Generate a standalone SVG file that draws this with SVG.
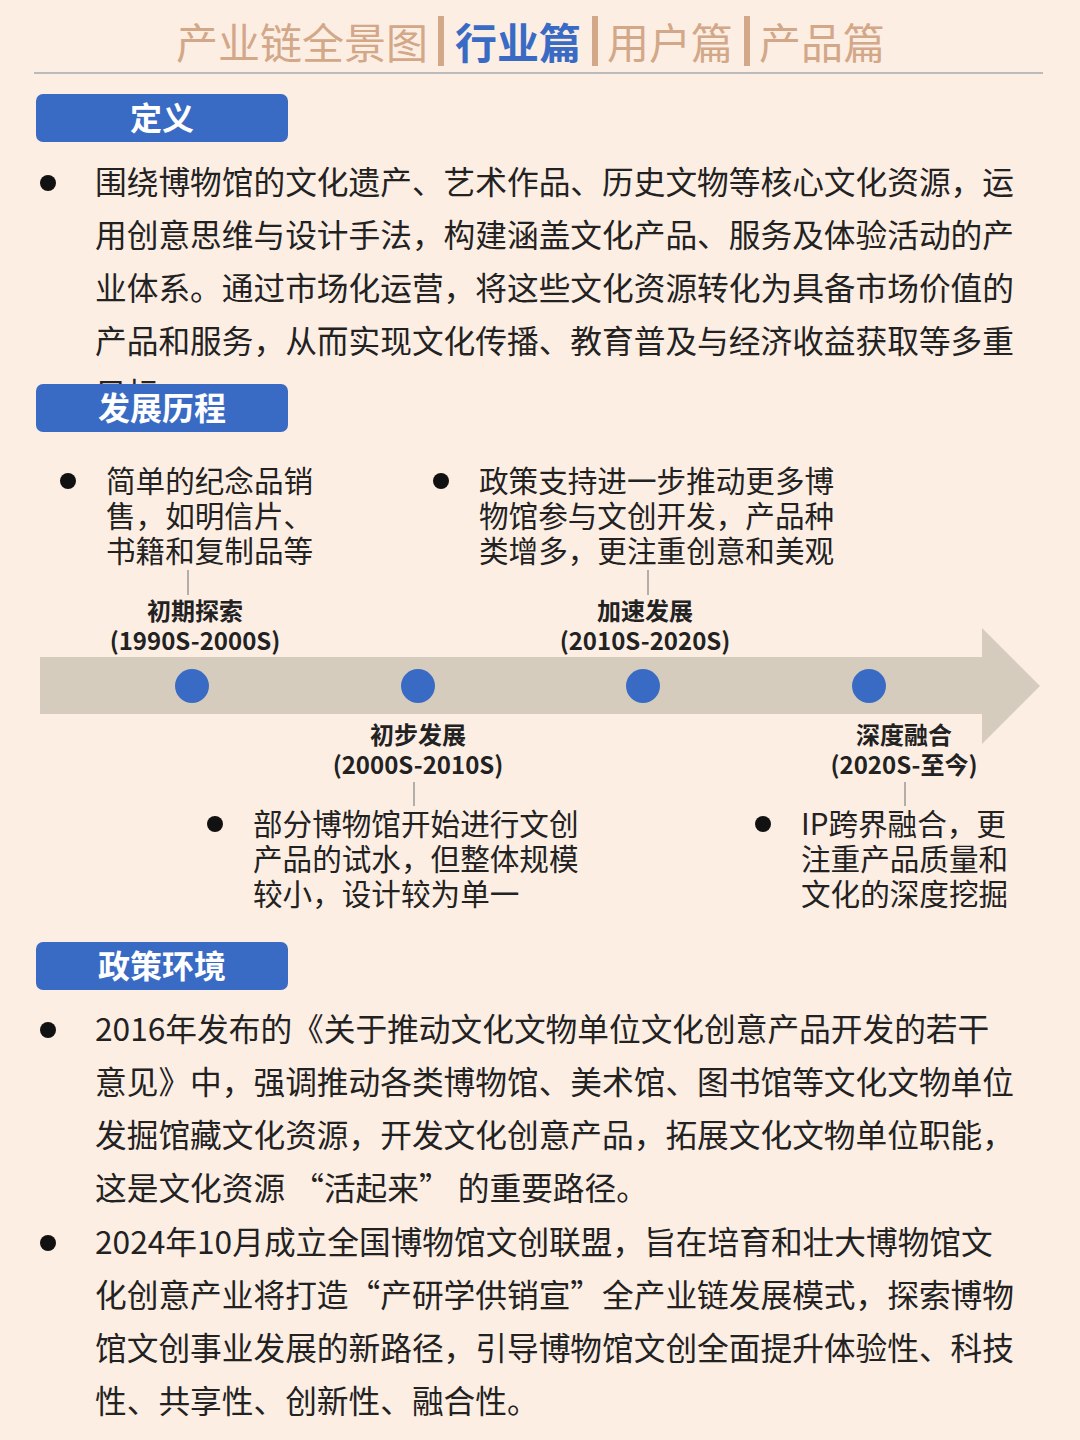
<svg xmlns="http://www.w3.org/2000/svg" width="1080" height="1440" viewBox="0 0 1080 1440">
<style>
text{font-family:"Noto Sans CJK SC","Noto Sans",sans-serif}
.hd{font-size:42px;fill:#d2a888}
.badge{fill:#3a6bc4}
.bt{font-size:32px;font-weight:bold;fill:#fff}
.p{font-size:31.7px;fill:#222}
.t{font-size:29.6px;fill:#222}
.lb{font-size:24px;font-weight:bold;fill:#222}
.dot{fill:#111}
.tick{stroke:#999;stroke-width:1.5}
</style>
<rect width="1080" height="1440" fill="#fdeee4"/>
<g id="header">
<text x="176" y="59" class="hd">产业链全景图</text>
<rect x="438" y="16" width="6" height="50" fill="#d2a888"/>
<text x="455" y="59" class="hd" style="fill:#3a6bc4;font-weight:bold">行业篇</text>
<rect x="592" y="16" width="6" height="50" fill="#d2a888"/>
<text x="607" y="59" class="hd">用户篇</text>
<rect x="744" y="16" width="6" height="50" fill="#d2a888"/>
<text x="759" y="59" class="hd">产品篇</text>
<line x1="34" y1="73" x2="1043" y2="73" stroke="#bbb" stroke-width="2"/>
</g>
<g id="def">
<text x="95" y="406" class="p">目标。</text>
<rect x="36" y="94" width="252" height="48" rx="7" class="badge"/>
<text x="162" y="130" class="bt" text-anchor="middle">定义</text>
<circle cx="48" cy="183" r="8" class="dot"/>
<text class="p"><tspan x="95" y="194">围绕博物馆的文化遗产、艺术作品、历史文物等核心文化资源，运</tspan><tspan x="95" y="247">用创意思维与设计手法，构建涵盖文化产品、服务及体验活动的产</tspan><tspan x="95" y="300">业体系。通过市场化运营，将这些文化资源转化为具备市场价值的</tspan><tspan x="95" y="353">产品和服务，从而实现文化传播、教育普及与经济收益获取等多重</tspan></text>
</g>
<g id="hist-badge">
<rect x="36" y="384" width="252" height="48" rx="7" class="badge"/>
<text x="162" y="420" class="bt" text-anchor="middle">发展历程</text>
</g>
<g id="connectors">
<path d="M40 657 H982 V628 L1040 686 L982 744 V714 H40 Z" fill="#d6ccbe"/>
<line x1="188" y1="570" x2="188" y2="595" class="tick"/>
<line x1="648" y1="570" x2="648" y2="595" class="tick"/>
<line x1="414" y1="782" x2="414" y2="806" class="tick"/>
<line x1="905" y1="782" x2="905" y2="806" class="tick"/>
</g>
<g id="n1">
<circle cx="192" cy="686" r="17" class="badge"/>
<circle cx="68" cy="481" r="8" class="dot"/>
<text x="106" y="492" class="t">简单的纪念品销</text>
<text x="106" y="527" class="t">售，如明信片、</text>
<text x="106" y="562" class="t">书籍和复制品等</text>
<text x="195" y="620" class="lb" text-anchor="middle">初期探索</text>
<text x="195" y="650" class="lb" text-anchor="middle">(1990S-2000S)</text>
</g>
<g id="n2">
<circle cx="418" cy="686" r="17" class="badge"/>
<text x="418" y="744" class="lb" text-anchor="middle">初步发展</text>
<text x="418" y="774" class="lb" text-anchor="middle">(2000S-2010S)</text>
<circle cx="215" cy="824" r="8" class="dot"/>
<text x="253" y="835" class="t">部分博物馆开始进行文创</text>
<text x="253" y="870" class="t">产品的试水，但整体规模</text>
<text x="253" y="905" class="t">较小，设计较为单一</text>
</g>
<g id="n3">
<circle cx="643" cy="686" r="17" class="badge"/>
<circle cx="441" cy="481" r="8" class="dot"/>
<text x="479" y="492" class="t">政策支持进一步推动更多博</text>
<text x="479" y="527" class="t">物馆参与文创开发，产品种</text>
<text x="479" y="562" class="t">类增多，更注重创意和美观</text>
<text x="645" y="620" class="lb" text-anchor="middle">加速发展</text>
<text x="645" y="650" class="lb" text-anchor="middle">(2010S-2020S)</text>
</g>
<g id="n4">
<circle cx="869" cy="686" r="17" class="badge"/>
<text x="904" y="744" class="lb" text-anchor="middle">深度融合</text>
<text x="904" y="774" class="lb" text-anchor="middle">(2020S-至今)</text>
<circle cx="763" cy="824" r="8" class="dot"/>
<text x="801" y="835" class="t">IP跨界融合，更</text>
<text x="801" y="870" class="t">注重产品质量和</text>
<text x="801" y="905" class="t">文化的深度挖掘</text>
</g>
<g id="policy">
<rect x="36" y="942" width="252" height="48" rx="7" class="badge"/>
<text x="162" y="978" class="bt" text-anchor="middle">政策环境</text>
<circle cx="48" cy="1030" r="8" class="dot"/>
<text class="p"><tspan x="95" y="1041">2016年发布的《关于推动文化文物单位文化创意产品开发的若干</tspan><tspan x="95" y="1094">意见》中，强调推动各类博物馆、美术馆、图书馆等文化文物单位</tspan><tspan x="95" y="1147">发掘馆藏文化资源，开发文化创意产品，拓展文化文物单位职能，</tspan><tspan x="95" y="1200">这是文化资源 “活起来” 的重要路径。</tspan></text>
<circle cx="48" cy="1243" r="8" class="dot"/>
<text class="p"><tspan x="95" y="1254">2024年10月成立全国博物馆文创联盟，旨在培育和壮大博物馆文</tspan><tspan x="95" y="1307">化创意产业将打造“产研学供销宣”全产业链发展模式，探索博物</tspan><tspan x="95" y="1360">馆文创事业发展的新路径，引导博物馆文创全面提升体验性、科技</tspan><tspan x="95" y="1413">性、共享性、创新性、融合性。</tspan></text>
</g>
</svg>
